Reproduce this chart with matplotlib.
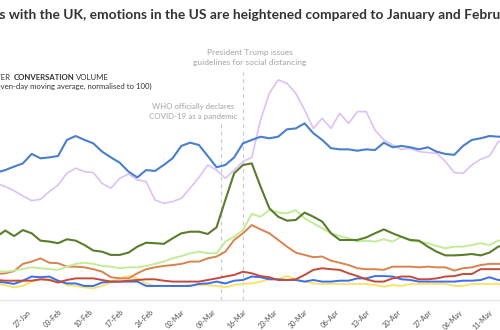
import numpy as np
import pandas as pd
import matplotlib
matplotlib.use("Agg")
from matplotlib import pyplot as plt
import matplotlib.dates as mdates

plt.rcParams['font.family'] = ['Lato', 'DejaVu Sans']

# seven-day moving average, sampled every second day
dates = pd.date_range('2020-01-20', periods=59, freq='2D')

volume_top = [55.4, 56.5, 58.0, 59.4, 63.5, 61.6, 62.0, 62.6, 69.6, 71.3, 69.6, 68.1, 64.5, 62.0, 59.7,
              55.8, 53.3, 56.5, 56.1, 58.7, 61.6, 67.0, 68.4, 67.4, 62.6, 57.7, 58.7, 62.0, 68.1,
              69.6, 71.0, 70.3, 71.0, 74.2, 74.6, 76.8, 72.5, 69.6, 66.0, 65.5, 65.5, 64.9, 65.5, 65.2,
              68.4, 66.4, 67.0, 66.4, 65.5, 66.4, 64.5, 63.5, 63.1, 67.0, 69.6, 70.3, 71.3, 71.0, 71.0]
lavender = [50.7, 49.3, 47.5, 45.2, 43.2, 43.8, 47.1, 50.0, 55.1, 57.3, 55.8, 55.4, 50.7, 48.6, 52.9,
            54.8, 52.2, 51.5, 43.5, 42.0, 42.8, 44.2, 48.6, 53.3, 58.7, 56.5, 52.9, 56.5, 60.2,
            62.0, 78.3, 89.9, 95.7, 94.2, 89.9, 82.6, 74.6, 79.0, 74.6, 81.2, 76.8, 81.9, 81.9, 73.9,
            69.6, 67.4, 65.5, 65.9, 64.5, 64.1, 63.8, 60.2, 55.4, 55.1, 58.7, 61.2, 62.6, 68.8, 69.6]
dark_green = [27.5, 30.2, 27.8, 30.4, 29.0, 25.8, 25.4, 24.7, 26.4, 25.8, 23.9, 21.5, 21.0, 19.6, 19.6,
              20.6, 23.2, 24.9, 24.7, 24.4, 26.8, 29.0, 29.7, 29.7, 28.7, 31.6, 43.5, 55.1, 58.7,
              59.4, 49.3, 39.9, 36.2, 34.5, 34.8, 38.0, 36.2, 34.1, 29.0, 26.1, 26.1, 26.1, 27.2, 29.0,
              30.7, 29.0, 27.5, 26.1, 25.8, 23.2, 21.0, 19.4, 19.4, 19.6, 20.0, 19.4, 20.6, 23.2, 24.0]
light_green = [12.6, 12.3, 12.8, 13.5, 14.2, 13.8, 13.4, 13.1, 14.5, 15.7, 16.2, 15.7, 14.8, 14.5, 13.8,
               14.2, 14.2, 14.8, 15.7, 16.7, 18.1, 19.1, 20.3, 21.0, 20.3, 20.3, 25.4, 27.5, 30.4,
               37.4, 36.2, 39.1, 38.0, 37.7, 39.1, 35.5, 33.3, 31.2, 29.0, 27.8, 26.8, 25.4, 25.8, 25.4,
               26.4, 25.4, 27.5, 25.8, 25.4, 24.7, 23.5, 22.5, 23.2, 23.2, 23.9, 24.7, 23.9, 25.8, 26.0]
orange = [11.3, 11.6, 12.6, 15.7, 16.7, 18.1, 16.2, 16.0, 14.5, 14.5, 14.2, 13.4, 12.3, 9.9, 9.4,
          9.4, 11.6, 13.4, 14.2, 14.8, 15.2, 15.7, 16.7, 16.7, 18.1, 18.9, 21.0, 26.1, 29.0,
          32.6, 30.7, 29.0, 26.1, 23.2, 20.6, 19.6, 18.6, 18.9, 17.1, 16.2, 15.2, 13.8, 13.4, 13.4,
          13.1, 14.5, 14.5, 14.5, 14.2, 14.5, 14.2, 14.2, 12.8, 13.8, 14.2, 15.2, 15.7, 15.7, 15.7]
red = [8.7, 8.4, 8.4, 8.4, 8.4, 9.0, 8.7, 7.6, 8.7, 9.4, 9.4, 9.4, 8.7, 8.0, 8.0,
       8.4, 8.7, 9.0, 9.0, 8.4, 8.0, 8.0, 8.0, 8.0, 8.7, 9.4, 10.2, 10.9, 12.3,
       11.6, 10.4, 9.9, 8.7, 8.7, 9.0, 10.9, 13.1, 13.8, 13.4, 13.1, 11.6, 10.4, 9.0, 8.0,
       8.0, 9.4, 10.2, 10.2, 9.0, 9.0, 9.4, 10.2, 10.4, 11.3, 11.3, 13.4, 13.4, 13.4, 13.4]
bright_blue = [8.0, 7.6, 7.0, 8.4, 10.2, 9.9, 10.2, 8.4, 7.2, 7.2, 6.1, 6.1, 7.6, 8.0, 8.0,
               8.0, 8.0, 6.1, 6.1, 6.1, 6.1, 6.1, 6.1, 7.0, 7.2, 8.0, 7.2, 8.4, 8.7,
               10.2, 9.9, 9.0, 9.0, 8.7, 8.7, 8.0, 8.7, 8.0, 8.0, 8.4, 8.4, 9.4, 9.4, 10.4,
               10.4, 10.2, 9.0, 8.7, 8.0, 8.0, 8.0, 8.0, 8.0, 8.4, 8.4, 8.7, 9.9, 8.7, 8.7]
yellow = [7.2, 6.5, 5.5, 6.1, 8.0, 9.0, 9.0, 8.4, 6.5, 6.1, 5.5, 5.1, 6.1, 7.6, 9.4,
          10.4, 9.4, 7.2, 6.1, 6.1, 6.1, 6.1, 6.5, 6.5, 6.5, 6.1, 5.5, 6.5, 7.0,
          7.2, 8.0, 9.0, 9.0, 10.4, 9.0, 8.0, 7.2, 7.0, 7.0, 7.0, 7.0, 7.0, 7.0, 6.5,
          5.8, 6.5, 6.1, 7.0, 7.0, 7.0, 7.0, 7.0, 6.1, 6.1, 7.0, 7.0, 7.0, 7.0, 7.0]

tick_dates = pd.date_range('2020-01-27', '2020-05-11', freq='7D')
who_date = pd.Timestamp('2020-03-11')
trump_date = pd.Timestamp('2020-03-16')

title = 'As with the UK, emotions in the US are heightened compared to January and February'

W, H = 500, 330
fig = plt.figure(figsize=(5, 3.3), dpi=100)
ax = fig.add_axes([0, 30 / H, 1, 230 / H])
renderer = fig.canvas.get_renderer()


def text_width(s, **kw):
    t = fig.text(0, 0, s, **kw)
    w = t.get_window_extent(renderer).width
    t.remove()
    return w


ax.plot(dates, lavender, color='#dcc1f6', lw=1.2, zorder=2)
ax.plot(dates, yellow, color='#f8e46c', lw=1.4, zorder=3)
ax.plot(dates, bright_blue, color='#3d6df0', lw=1.4, zorder=3)
ax.plot(dates, red, color='#c44a3b', lw=1.4, zorder=3)
ax.plot(dates, orange, color='#d9834e', lw=1.4, zorder=3)
ax.plot(dates, light_green, color='#c3ec98', lw=1.4, zorder=3)
ax.plot(dates, dark_green, color='#5a7c2b', lw=1.5, zorder=4)
ax.plot(dates, volume_top, color='#4a7fcf', lw=1.5, zorder=4)

ax.vlines(who_date, 0, 78, colors='#cccccc', linestyles=(0, (3, 3)), lw=0.9, clip_on=False, zorder=1)
ax.vlines(trump_date, 0, 99, colors='#cccccc', linestyles=(0, (3, 3)), lw=0.9, clip_on=False, zorder=1)

ax.text(who_date - pd.Timedelta(days=6.2), 82, 'WHO officially declares\nCOVID-19 as a pandemic',
        ha='center', va='center', fontsize=5.7, color='#b3b3b3', fontweight='semibold',
        linespacing=1.45)
ax.text(trump_date + pd.Timedelta(days=1.5), 105.5, 'President Trump issues\nguidelines for social distancing',
        ha='center', va='center', fontsize=6.0, color='#b3b3b3', fontweight='semibold',
        linespacing=1.4, clip_on=False)

ax.set_xlim(trump_date - pd.Timedelta(days=55.2), trump_date + pd.Timedelta(days=58.4))
ax.set_ylim(0, 100)
ax.set_xticks(tick_dates)
ax.xaxis.set_major_formatter(mdates.DateFormatter('%d-%b'))
ax.tick_params(axis='x', length=0, pad=6, labelsize=5, labelcolor='#6b6b6b')
for lab in ax.get_xticklabels():
    lab.set_rotation(45)
    lab.set_ha('right')
    lab.set_rotation_mode('anchor')
    lab.set_fontweight('semibold')
ax.set_yticks([])
for s in ['top', 'left', 'right']:
    ax.spines[s].set_visible(False)
ax.spines['bottom'].set_color('#e6e6e6')
ax.spines['bottom'].set_linewidth(1)

# title, cut off at both sides as in the source image: "s with ... Febru" spans the full width
tkw = dict(fontweight='bold', color='#333333')
w_vis = text_width(title[1:-3], fontsize=10, **tkw)
tsize = 10 * W / w_vis
w_a = text_width(title[:1], fontsize=tsize, **tkw)
fig.text(-w_a / W, 1 - 15 / H, title, ha='left', va='center', fontsize=tsize, **tkw)

# header, right-aligned pieces so the left end runs off the image
hkw = dict(fontsize=5.6, color='#333333')
y1 = 1 - 77 / H
w_sp = text_width('A A', **hkw) - text_width('AA', **hkw)
x = 109
fig.text(x / W, y1, 'VOLUME', ha='right', va='center', **hkw)
x -= text_width('VOLUME', **hkw) + w_sp
fig.text(x / W, y1, 'CONVERSATION', ha='right', va='center', fontweight='bold', **hkw)
x -= text_width('CONVERSATION', fontweight='bold', **hkw) + w_sp
fig.text(x / W, y1, 'TWITTER', ha='right', va='center', **hkw)
fig.text(152 / W, 1 - 86 / H, '(seven-day moving average, normalised to 100)', ha='right', va='center',
         **hkw)

plt.savefig('out.png', dpi=100)
